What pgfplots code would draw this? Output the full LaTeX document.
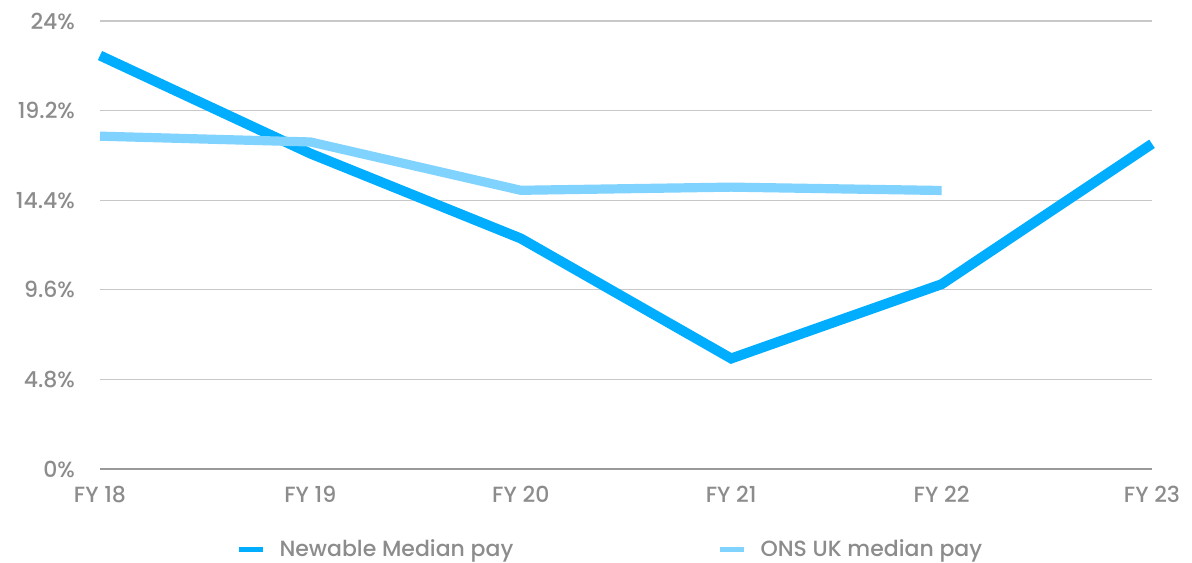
\documentclass[border=0pt]{standalone}
\usepackage{pgfplots}
\pgfplotsset{compat=1.18}
\usepackage{fontspec}
\setmainfont{Poppins Medium}
\definecolor{newable}{HTML}{00ADFF}
\definecolor{ons}{HTML}{80D3FF}
\definecolor{txt}{HTML}{8C8C8C}
\definecolor{grd}{HTML}{C8C8C8}
\begin{document}
\begin{tikzpicture}
\path[use as bounding box] (-50pt,-46.5pt) rectangle (546pt,234.5pt);
\begin{axis}[
  at={(0,0)}, anchor=south west,
  scale only axis, width=526pt, height=224pt,
  xmin=0, xmax=5, ymin=0, ymax=24,
  clip=false,
  axis line style={draw=none},
  xtick={0,1,2,3,4,5},
  xticklabels={FY 18,FY 19,FY 20,FY 21,FY 22,FY 23},
  ytick={0,4.8,9.6,14.4,19.2,24},
  yticklabels={0\%,4.8\%,9.6\%,14.4\%,19.2\%,24\%},
  major tick length=0pt,
  ymajorgrids, grid style={grd, line width=0.6pt},
  tick label style={font=\fontsize{11}{13}\selectfont, text=txt},
  xticklabel style={yshift=-5pt},
  yticklabel style={xshift=-9pt},
  extra y ticks={0}, extra y tick labels={},
  extra y tick style={grid style={draw=black!40, line width=0.8pt}},
  legend style={at={(0.486,-0.18)}, anchor=center, draw=none, fill=none,
    legend columns=2, font=\fontsize{11}{13}\selectfont, text=txt,
    /tikz/every even column/.append style={column sep=100pt}},
  legend image code/.code={\draw[#1, line width=2.6pt] (0pt,0pt) -- (12pt,0pt);},
  legend cell align=left,
  /tikz/every odd column/.append style={column sep=5pt},
]
\addplot[newable, line width=5pt, line join=miter] coordinates {
  (0,22.15) (1,16.9) (2,12.35) (3,5.92) (4,9.9) (5,17.42)
};
\addlegendentry{Newable Median pay}
\addplot[ons, line width=4.6pt] coordinates {
  (0,17.83) (1,17.52) (2,14.93) (3,15.1) (4,14.92)
};
\addlegendentry{ONS UK median pay}
\end{axis}
\end{tikzpicture}
\end{document}
